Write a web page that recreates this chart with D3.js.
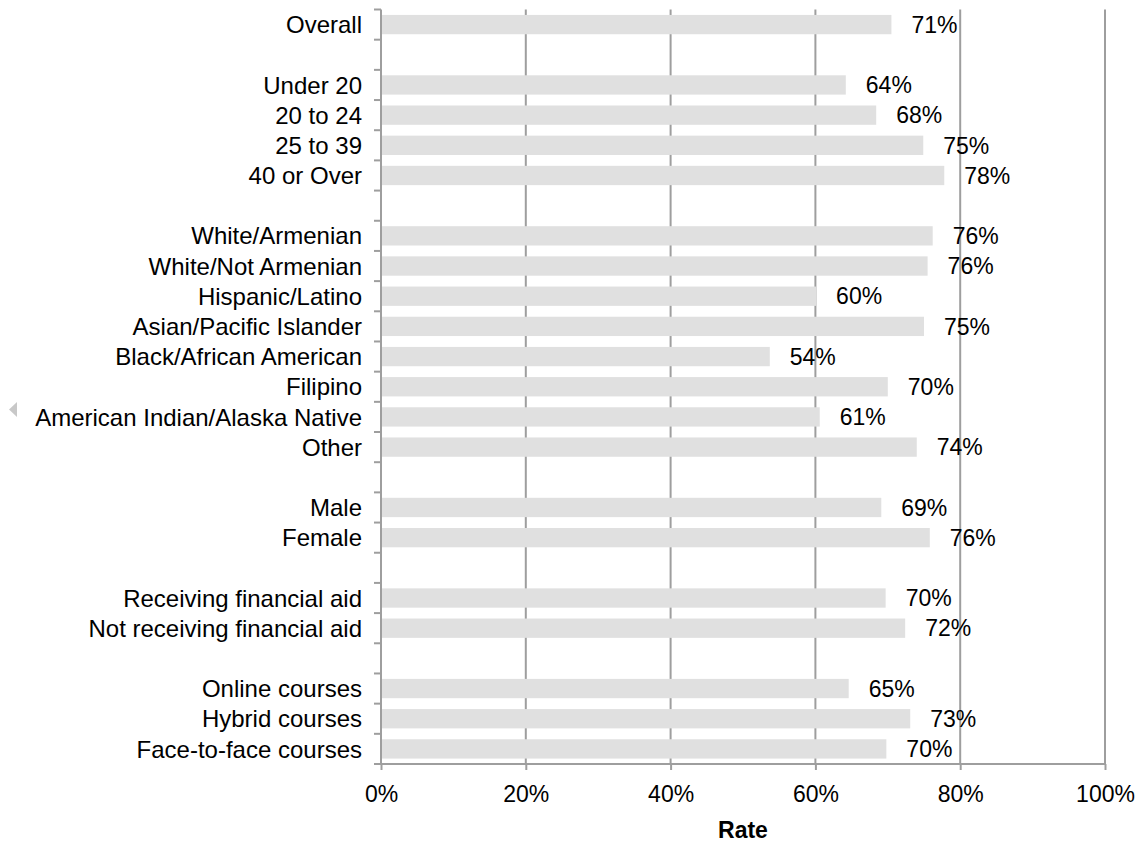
<!DOCTYPE html>
<html>
<head>
<meta charset="utf-8">
<script src="https://cdn.jsdelivr.net/npm/d3@7"></script>
<style>
  html, body { margin: 0; padding: 0; background: #fff; }
  svg { display: block; font-family: "Liberation Sans", Arial, Helvetica, sans-serif; }
</style>
</head>
<body>
<svg id="chart" width="1141" height="842"></svg>
<script>
// Categories (blank strings are group separators)
const categories = [
  "Overall", "",
  "Under 20", "20 to 24", "25 to 39", "40 or Over", " ",
  "White/Armenian", "White/Not Armenian", "Hispanic/Latino", "Asian/Pacific Islander",
  "Black/African American", "Filipino", "American Indian/Alaska Native", "Other", "  ",
  "Male", "Female", "   ",
  "Receiving financial aid", "Not receiving financial aid", "    ",
  "Online courses", "Hybrid courses", "Face-to-face courses"
];
// Rates (null for separators)
const rates = [
  0.705, null,
  0.642, 0.684, 0.749, 0.778, null,
  0.762, 0.755, 0.601, 0.750, 0.537, 0.700, 0.606, 0.740, null,
  0.691, 0.758, null,
  0.697, 0.724, null,
  0.646, 0.731, 0.698
];
const xTicks = [0, 0.2, 0.4, 0.6, 0.8, 1.0];
const xTitle = "Rate";

const svg = d3.select("#chart");
const plotLeft = 381, plotRight = 1105, plotTop = 9.5, plotBottom = 764;
const gridColor = "#9e9e9e";
const barColor = "#e0e0e0";
const fontSize = 23;

const x = d3.scaleLinear().domain([0, 1]).range([plotLeft, plotRight]);
const y = d3.scaleBand().domain(categories).range([plotTop, plotBottom])
  .paddingInner(0.36).paddingOuter(0.18);
const step = y.step();

// small decorative triangle at left
svg.append("path")
  .attr("d", "M9,409.5 L17,402 L17,417 Z")
  .attr("fill", "#c8c8c8");

// gridlines
svg.append("g").selectAll("line").data(xTicks.filter(d => d > 0)).join("line")
  .attr("x1", d => x(d)).attr("x2", d => x(d))
  .attr("y1", plotTop).attr("y2", plotBottom)
  .attr("stroke", gridColor).attr("stroke-width", 2);

// bars
const data = categories.map((c, i) => ({c, v: rates[i]})).filter(d => d.v !== null);
svg.append("g").selectAll("rect").data(data).join("rect")
  .attr("x", x(0))
  .attr("y", d => y(d.c))
  .attr("width", d => x(d.v) - x(0))
  .attr("height", y.bandwidth())
  .attr("fill", barColor);

// value labels
svg.append("g").selectAll("text").data(data).join("text")
  .attr("x", d => x(d.v) + 20)
  .attr("y", d => y(d.c) + y.bandwidth() / 2)
  .attr("dy", "0.36em")
  .attr("font-size", fontSize)
  .attr("fill", "#000")
  .text(d => Math.round(d.v * 100) + "%");

// y axis boundary ticks
const gy = svg.append("g").attr("transform", `translate(${plotLeft},0)`);
const boundaries = d3.range(categories.length + 1).map(i => plotTop + i * step);
gy.selectAll("line.bt").data(boundaries).join("line").attr("class", "bt")
  .attr("x1", -7).attr("x2", 0)
  .attr("y1", d => d).attr("y2", d => d)
  .attr("stroke", gridColor).attr("stroke-width", 2);
// category labels
svg.append("g").selectAll("text").data(categories.filter(c => c.trim() !== "")).join("text")
  .attr("x", 362)
  .attr("y", d => y(d) + y.bandwidth() / 2)
  .attr("dy", "0.36em")
  .attr("text-anchor", "end")
  .attr("font-size", 24)
  .attr("fill", "#000")
  .text(d => d);

// x axis
const xAxis = d3.axisBottom(x).tickValues(xTicks).tickSize(6)
  .tickFormat(d3.format(".0%")).tickPadding(16);
const gx = svg.append("g").attr("transform", `translate(0,${plotBottom})`).call(xAxis);
gx.select(".domain").remove();
gx.selectAll(".tick line").attr("stroke", gridColor).attr("stroke-width", 2);
gx.selectAll(".tick text").attr("font-size", fontSize).attr("fill", "#000")
  .attr("font-family", "Liberation Sans, Arial, sans-serif");

// axis lines
svg.append("line").attr("x1", plotLeft).attr("x2", plotLeft).attr("y1", plotTop).attr("y2", plotBottom + 1)
  .attr("stroke", gridColor).attr("stroke-width", 2);
svg.append("line").attr("x1", plotLeft - 7).attr("x2", plotRight + 1).attr("y1", plotBottom).attr("y2", plotBottom)
  .attr("stroke", gridColor).attr("stroke-width", 2);

// x title
svg.append("text")
  .attr("x", (plotLeft + plotRight) / 2).attr("y", 838)
  .attr("text-anchor", "middle")
  .attr("font-size", fontSize).attr("font-weight", "bold").attr("fill", "#000")
  .text(xTitle);
</script>
</body>
</html>
